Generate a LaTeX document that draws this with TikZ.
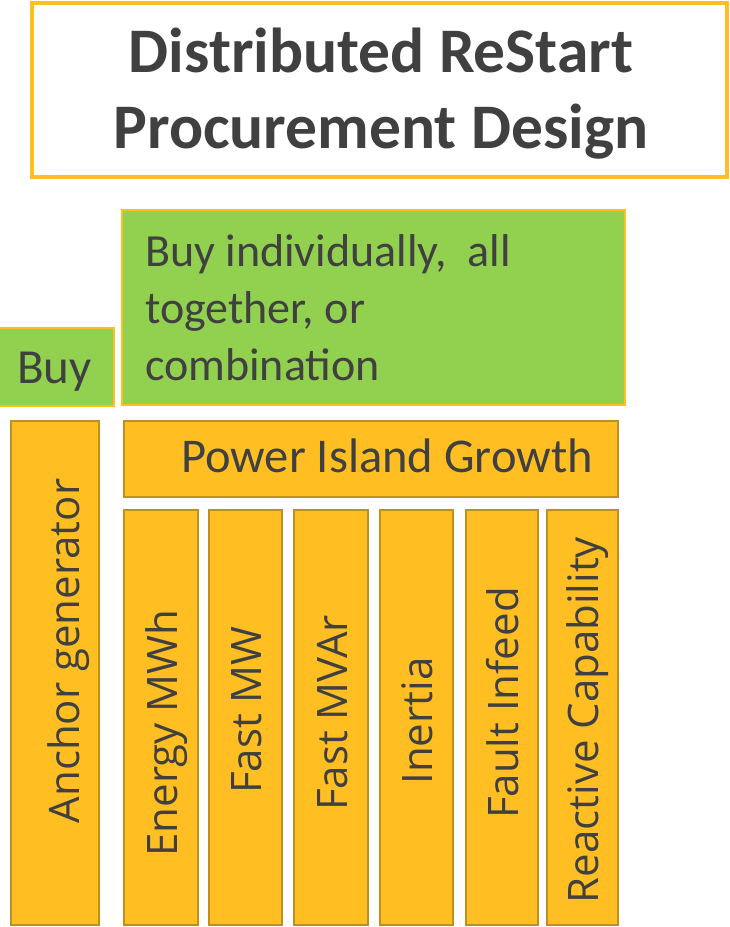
\documentclass[tikz,border=0pt]{standalone}
\usepackage{fontspec}
\setmainfont{Carlito}
\newfontfamily\colfont{Open Sans}
\definecolor{goldfill}{HTML}{FFBE22}
\definecolor{goldedge}{HTML}{BF9020}
\definecolor{titleedge}{HTML}{FFBF22}
\definecolor{buygreen}{HTML}{92D050}
\definecolor{textgrey}{HTML}{404040}
\tikzset{
  titleframe/.style={draw=titleedge, line width=4.5pt, fill=white},
  greenframe/.style={draw=titleedge, line width=1.5pt, fill=buygreen},
  goldframe/.style={draw=goldedge, line width=2pt, fill=goldfill},
  boxtext/.style={text=textgrey, inner sep=0pt, font=\fontsize{46}{57}\selectfont},
  coltext/.style={text=textgrey, inner sep=0pt, rotate=90, anchor=base, font=\colfont\fontsize{42}{50}\selectfont}
}
\begin{document}
\begin{tikzpicture}[x=1pt,y=-1pt]
  \useasboundingbox (0,0) rectangle (729,927);
  % Titel
  \draw[titleframe] (32,3) rectangle (727,177);
  \node[boxtext, font=\bfseries\fontsize{63.5}{76}\selectfont, align=center, anchor=base] (title) at (381,148) {Distributed ReStart\\Procurement Design};
  % gruene Kaesten
  \draw[greenframe] (122,210) rectangle (625,405);
  \node[boxtext, align=left, anchor=base west] (buyall) at (145,380) {Buy individually,\ \ all\\together, or\\combination};
  \draw[greenframe] (-2,328) rectangle (114,406);
  \node[boxtext, font=\fontsize{49}{57}\selectfont, anchor=base west] (buy) at (17,383) {Buy};
  % Ankergenerator
  \draw[goldframe] (11,421) rectangle (99,925);
  \node[coltext] (anchor) at (79,651) {Anchor generator};
  % Inselnetz
  \draw[goldframe] (124,421) rectangle (618,497);
  \node[boxtext, font=\fontsize{48.5}{57}\selectfont, anchor=base west] (island) at (181,472) {Power Island Growth};
  % Saeulen: links/rechts/Textmitte/Text
  \foreach \a/\b/\m/\n/\t in {124/198/733/energy/Energy MWh,209/282/710/fastmw/Fast MW,294/368/713/fastmvar/Fast MVAr,380/453/721/inertia/Inertia,466/538/703/fault/Fault Infeed,547/618/720/reactive/Reactive Capability}{
    \draw[goldframe] (\a,510) rectangle (\b,925);
    \node[coltext] (\n) at ({(\a+\b)/2+16},\m) {\t};
  }
\end{tikzpicture}
\end{document}
